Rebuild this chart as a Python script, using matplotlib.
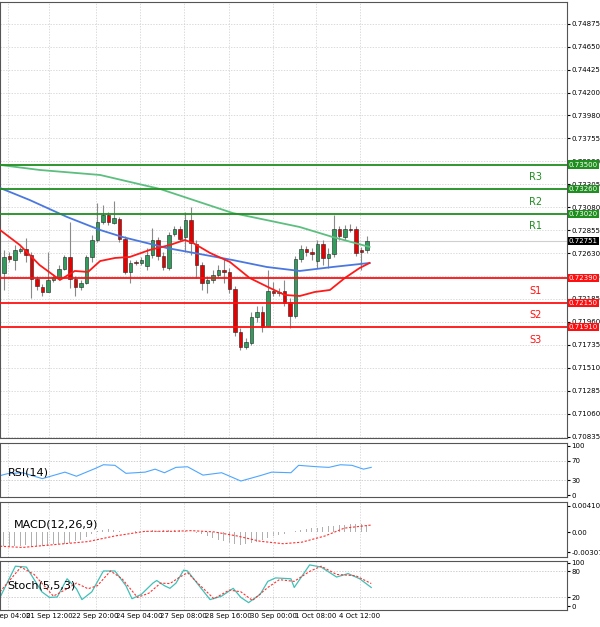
import matplotlib
matplotlib.use("Agg")
import matplotlib.pyplot as plt
from matplotlib.patches import Rectangle
import numpy as np

# candles (hourly-ish bars), prices
opens = [.72439, .72605, .72566, .72654, .72674, .72615, .72381, .72302, .72253, .72371,
         .72400, .72478, .72596, .72381, .72302, .72341, .72596, .72762, .72938, .73007,
         .72928, .72967, .72772, .72449, .72547, .72537, .72508, .72615, .72762, .72605,
         .72488, .72821, .72870, .72791, .72958, .72723, .72517, .72341, .72371, .72420,
         .72468, .72449, .72283, .71861, .71714, .71753, .72008, .72058, .71920, .72263,
         .72243, .72263, .72155, .72018, .72576, .72674, .72645, .72556, .72723, .72586,
         .72625, .72870, .72791, .72870, .72870, .72664, .72664]
closes = [.72596, .72576, .72664, .72674, .72615, .72381, .72312, .72253, .72371, .72400,
          .72478, .72596, .72381, .72302, .72341, .72596, .72762, .72938, .73007, .72938,
          .72977, .72772, .72449, .72537, .72537, .72566, .72615, .72762, .72605, .72498,
          .72811, .72870, .72772, .72958, .72733, .72517, .72341, .72371, .72420, .72468,
          .72449, .72283, .71861, .71714, .71763, .72008, .72058, .71910, .72263, .72243,
          .72253, .72146, .72018, .72576, .72674, .72645, .72625, .72723, .72586, .72625,
          .72870, .72801, .72870, .72860, .72635, .72645, .72751]
highs = [.72664, .72645, .72713, .72694, .72781, .72645, .72410, .72332, .72645, .72429,
         .72517, .72615, .72938, .72410, .72371, .72615, .72811, .73124, .73104, .73036,
         .73143, .72987, .72801, .72566, .72566, .72596, .72684, .72879, .72791, .72645,
         .72840, .72899, .72899, .73036, .73085, .72762, .72547, .72410, .72468, .72517,
         .72586, .72488, .72312, .71900, .71802, .72058, .72116, .72116, .72468, .72351,
         .72292, .72371, .72195, .72605, .72713, .72703, .72684, .72762, .72762, .72684,
         .73007, .72899, .72909, .72919, .72899, .72694, .72801]
lows = [.72273, .72547, .72468, .72635, .72547, .72195, .72273, .72214, .72253, .72351,
        .72371, .72468, .72292, .72214, .72273, .72332, .72547, .72742, .72919, .72909,
        .72919, .72742, .72429, .72341, .72517, .72517, .72468, .72586, .72566, .72468,
        .72468, .72801, .72752, .72645, .72615, .72390, .72273, .72243, .72341, .72400,
        .72341, .72243, .71822, .71685, .71694, .71733, .71959, .71861, .71910, .72214,
        .72214, .72116, .71900, .71998, .72547, .72605, .72566, .72488, .72517, .72488,
        .72596, .72762, .72762, .72840, .72605, .72468, .72635]

# moving averages (bar index, price)
ma_red_x = [-0.7, 2.9, 6.5, 10.2, 12.9, 15.3, 17.5, 20.2, 22.9, 26.5, 30.2, 32.9, 34.4, 37.5,
            41.1, 44.7, 48.4, 51.1, 53.8, 56.5, 59.3, 62.0, 64.7, 66.5]
ma_red = [.72860, .72713, .72517, .72371, .72459, .72449, .72556, .72586, .72596, .72664,
          .72713, .72762, .72733, .72635, .72547, .72390, .72292, .72224, .72214, .72253,
          .72273, .72390, .72488, .72537]
ma_blue_x = [-0.7, 4.7, 11.5, 17.5, 21.6, 29.6, 35.6, 41.6, 47.8, 53.8, 59.8, 66.5]
ma_blue = [.73271, .73153, .72987, .72860, .72791, .72684, .72625, .72566, .72498, .72459,
           .72498, .72537]
ma_green_x = [-0.7, 6.5, 17.5, 28.4, 41.6, 53.8, 59.8, 66.5]
ma_green = [.73496, .73447, .73398, .73261, .73026, .72889, .72791, .72694]

levels = [0.7350, 0.7326, 0.7302, 0.7239, 0.7215, 0.7191]
level_names = ["R3", "R2", "R1", "S1", "S2", "S3"]
last_price = 0.72751

price_ticks = [0.74875, 0.74650, 0.74425, 0.74200, 0.73980, 0.73755, 0.73530, 0.73305,
               0.73080, 0.72855, 0.72630, 0.72405, 0.72185, 0.71960, 0.71735, 0.71510,
               0.71285, 0.71060, 0.70835]

rsi_x = [-0.7, 0.7, 3.4, 7.0, 11.1, 13.2, 16.7, 18.1, 20.2, 22.2, 25.7, 27.5, 29.2, 31.3,
         33.4, 36.2, 39.6, 43.1, 46.6, 48.7, 52.2, 53.6, 57.0, 59.1, 61.2, 63.3, 65.4, 66.8]
rsi = [39.6, 43.7, 45.5, 33.6, 46.7, 38.4, 54.5, 61.6, 60.4, 44.3, 46.7, 52.7, 45.5, 56.3,
       57.5, 40.7, 45.5, 28.8, 39.6, 46.7, 45.5, 60.4, 57.5, 56.3, 61.6, 60.4, 52.7, 56.3]

macd_hist = [-0.0021, -0.0022, -0.0022, -0.0021, -0.0020, -0.0021, -0.0022, -0.0022, -0.0021,
             -0.0019, -0.0018, -0.0019, -0.0017, -0.0014, -0.0012, -0.0008, -0.0003, 0.0002,
             0.0004, 0.0005, 0.0004, 0.0002, 0.0000, 0.0001, 0.0002, 0.0001, 0.0002, 0.0003,
             0.0002, 0.0003, 0.0004, 0.0004, 0.0003, 0.0002, 0.0001, -0.0001, -0.0003, -0.0006,
             -0.0009, -0.0012, -0.0014, -0.0017, -0.0019, -0.0020, -0.0019, -0.0017, -0.0015,
             -0.0012, -0.0009, -0.0006, -0.0004, -0.0002, 0.0000, 0.0002, 0.0004, 0.0005,
             0.0006, 0.0007, 0.0008, 0.0009, 0.0010, 0.0011, 0.0011, 0.0012, 0.0012, 0.0012,
             0.0011]
macd_sig_x = [-0.7, 3.4, 9.7, 15.3, 20.2, 25.7, 30.6, 34.1, 38.2, 42.4, 46.6, 50.8, 54.2,
              58.4, 61.9, 66.8]
macd_sig = [-.00217, -.00236, -.00188, -.00145, -.00058, .00014, .00014, .00024, .00005,
            -.00058, -.0014, -.00178, -.00154, -.00058, .00063, .00111]

stoch_x = [-0.7, 2.1, 4.1, 6.9, 8.3, 9.7, 11.5, 13.2, 14.2, 16.0, 18.1, 20.2, 22.2, 23.3, 25.0,
           27.1, 27.8, 29.2, 30.2, 31.3, 32.7, 33.4, 35.5, 37.5, 39.6, 41.7, 43.1, 44.5, 46.6,
           48.0, 49.4, 52.2, 52.8, 55.6, 57.7, 60.5, 62.6, 64.7, 66.8]
stoch_k = [20, 92, 90, 33, 20, 21, 63, 40, 15, 33, 81, 81, 47, 17, 27, 53, 59, 47, 41, 53, 83,
           81, 47, 15, 23, 41, 20, 8, 27, 57, 65, 63, 43, 95, 90, 67, 75, 63, 43]
stoch_sx = [-0.7, 3.1, 5.5, 9.0, 11.5, 13.2, 15.3, 17.0, 19.4, 21.5, 24.3, 26.4, 28.5, 30.2,
            32.0, 33.4, 35.5, 38.2, 41.0, 43.1, 45.2, 48.0, 50.1, 52.8, 55.6, 57.7, 60.5, 64.0,
            66.8]
stoch_d = [33, 90, 73, 23, 40, 53, 40, 47, 81, 63, 20, 30, 53, 52, 67, 77, 50, 17, 37, 33, 13,
           43, 61, 57, 80, 92, 73, 70, 52]

xtick_pos = [0.7, 8.3, 16.7, 24.7, 32.7, 40.9, 49.0, 56.7, 64.7]
xtick_labels = ["20 Sep 04:00", "21 Sep 12:00", "22 Sep 20:00", "24 Sep 04:00", "27 Sep 08:00",
                "28 Sep 16:00", "30 Sep 00:00", "1 Oct 08:00", "4 Oct 12:00"]

W, H = 600, 627
fig = plt.figure(figsize=(6, 6.27), dpi=100)
XL = (-0.7, 102.4)


def panel(top, bottom):
    ax = fig.add_axes([0, (H - bottom) / H, 567 / W, (bottom - top) / H])
    ax.set_xlim(*XL)
    ax.yaxis.tick_right()
    ax.tick_params(axis="y", labelsize=5, length=2, pad=1)
    ax.set_xticks(xtick_pos)
    ax.tick_params(axis="x", length=0, labelbottom=False)
    ax.grid(True, color="#cccccc", linestyle=(0, (2, 2)), linewidth=0.5)
    for s in ax.spines.values():
        s.set_color("#555555")
    return ax


def xgrid_only(a):
    a.grid(False)
    a.grid(True, axis="x", color="#cccccc", linestyle=(0, (2, 2)), linewidth=0.5)


ax = panel(2, 438)
ax.set_ylim(0.70825, 0.75090)
ax.set_yticks(price_ticks)
ax.set_yticklabels([f"{t:.5f}" for t in price_ticks])

for i, (o, c, h, l) in enumerate(zip(opens, closes, highs, lows)):
    ax.vlines(i, l, h, color="#8a8a8a", linewidth=0.8, zorder=2)
    col = "#2f9e5c" if c >= o else "#e80000"
    ax.add_patch(Rectangle((i - 0.33, min(o, c)), 0.66, max(abs(c - o), 0.00004),
                           facecolor=col, edgecolor="#222222", linewidth=0.4, zorder=3))

ax.plot(ma_green_x, ma_green, color="#5cbf7f", linewidth=1.3, zorder=4)
ax.plot(ma_blue_x, ma_blue, color="#4a78e0", linewidth=1.3, zorder=4)
ax.plot(ma_red_x, ma_red, color="#ff1a1a", linewidth=1.3, zorder=4)

ax.axhline(last_price, color="#cfcfcf", linewidth=0.8, zorder=1)
for lv, name in zip(levels, level_names):
    col = "#1f8f1f" if name.startswith("R") else "#ff1010"
    ax.axhline(lv, color=col, linewidth=1.3, zorder=5)
    ax.annotate(name, (96.6, lv), xytext=(0, -9), textcoords="offset points",
                ha="center", va="center", fontsize=7, color=col)
    ax.text(1.003, lv, f"{lv:.5f}", transform=ax.get_yaxis_transform(), fontsize=5,
            color="white", va="center", ha="left", zorder=10,
            bbox=dict(boxstyle="square,pad=0.15", facecolor=col, edgecolor="none"))
ax.text(1.003, last_price, f"{last_price:.5f}", transform=ax.get_yaxis_transform(), fontsize=5,
        color="white", va="center", ha="left", zorder=10,
        bbox=dict(boxstyle="square,pad=0.15", facecolor="black", edgecolor="none"))

# RSI
ar = panel(443, 497)
ar.set_ylim(-3.4, 105.4)
ar.set_yticks([0, 30, 70, 100])
xgrid_only(ar)
for v in (30, 70):
    ar.axhline(v, color="#bbbbbb", linestyle=(0, (2, 2)), linewidth=0.5)
ar.plot(rsi_x, rsi, color="#4da6ff", linewidth=0.8)
ar.text(0.8, 45, "RSI(14)", fontsize=8, va="center")

# MACD
am = panel(502, 557)
am.set_ylim(-0.00384, 0.00468)
am.set_yticks([-0.00307, 0.0, 0.004101])
am.set_yticklabels(["-0.00307", "0.00", "0.004101"])
xgrid_only(am)
am.bar(range(len(macd_hist)), macd_hist, width=0.2, color="#b0b0b0")
am.plot(macd_sig_x, macd_sig, color="#ff3030", linewidth=0.8, linestyle=(0, (2, 1.5)))
am.text(1.8, 0.0012, "MACD(12,26,9)", fontsize=8, va="center")

# Stochastic
ast = panel(561, 610)
ast.set_ylim(-9, 104)
ast.set_yticks([0, 20, 80, 100])
xgrid_only(ast)
for v in (20, 80):
    ast.axhline(v, color="#bbbbbb", linestyle=(0, (2, 2)), linewidth=0.5)
ast.plot(stoch_x, stoch_k, color="#40c0b8", linewidth=0.9)
ast.plot(stoch_sx, stoch_d, color="#ff3030", linewidth=0.8, linestyle=(0, (2, 1.5)))
ast.text(0.7, 48, "Stoch(5,5,3)", fontsize=8, va="center")
ast.tick_params(axis="x", labelbottom=True, labelsize=5, pad=2)
ast.set_xticklabels(xtick_labels)

fig.savefig("out.png", dpi=100)
